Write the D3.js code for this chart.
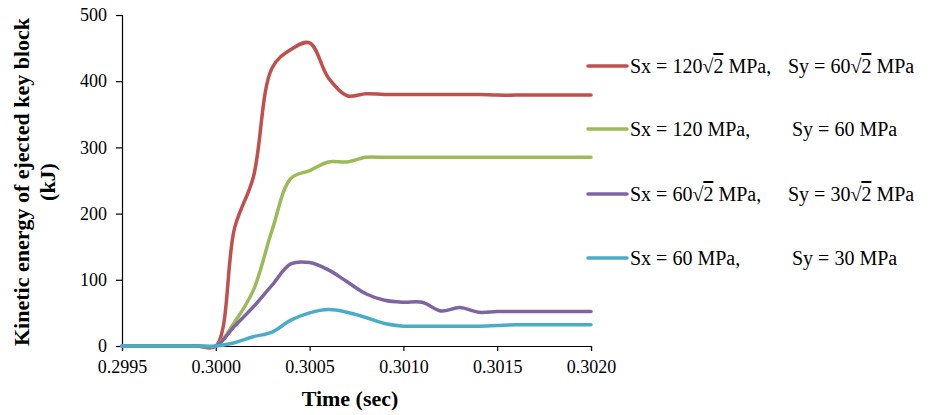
<!DOCTYPE html>
<html>
<head>
<meta charset="utf-8">
<script src="https://cdn.jsdelivr.net/npm/d3@7"></script>
<style>
    body { margin: 0; background: #ffffff; }
    svg text { font-family: "Liberation Serif", "Times New Roman", serif; fill: #000; }
</style>
</head>
<body>
<div id="chart"></div>
<script>
// Time steps (sec)
const timeSteps = [0.2995, 0.2996, 0.2997, 0.2998, 0.2999, 0.3000,
    0.3001, 0.3002, 0.3003, 0.3004, 0.3005, 0.3006, 0.3007, 0.3008, 0.3009, 0.3010,
    0.3011, 0.3012, 0.3013, 0.3014, 0.3015, 0.3016, 0.3017, 0.3018, 0.3019, 0.3020];

// Kinetic energy (kJ) for each stress case
const energyA = [0, 0, 0, 0, 0, 0,
    178, 255, 420, 448, 458, 405, 378, 381, 380, 380,
    380, 380, 380, 380, 379, 379, 379, 379, 379, 379];
const energyB = [0, 0, 0, 0, 0, 0,
    36, 84, 175, 253, 265, 278, 278, 285, 285, 285,
    285, 285, 285, 285, 285, 285, 285, 285, 285, 285];
const energyC = [0, 0, 0, 0, 0, 0,
    30, 59, 92, 124, 126, 115, 97, 79, 69, 66,
    66, 53, 58, 51, 52, 52, 52, 52, 52, 52];
const energyD = [0, 0, 0, 0, 0, 0,
    5, 14, 21, 39, 50, 55, 51, 43, 34, 30,
    30, 30, 30, 30, 31, 32, 32, 32, 32, 32];

// Legend labels: [Sx part, Sy part]
const seriesNames = [
    [["Sx = 120", "2", " MPa,"], ["Sy = 60", "2", " MPa"]],
    [["Sx = 120 MPa,"], ["Sy = 60 MPa"]],
    [["Sx = 60", "2", " MPa,"], ["Sy = 30", "2", " MPa"]],
    [["Sx = 60 MPa,"], ["Sy = 30 MPa"]]
];
const seriesColors = ["#C0504D", "#9BBB59", "#8064A2", "#4BACC6"];

const xTicks = [0.2995, 0.3000, 0.3005, 0.3010, 0.3015, 0.3020];
const yTicks = [0, 100, 200, 300, 400, 500];

// Function to draw the whole chart
function drawChart() {
    const width = 932, height = 415;
    const plot = { left: 122, right: 591, top: 15, bottom: 346 };
    const serif = "Liberation Serif, Times New Roman, serif";

    const svg = d3.select("#chart").append("svg")
        .attr("width", width)
        .attr("height", height);

    svg.append("rect")
        .attr("width", width)
        .attr("height", height)
        .attr("fill", "#ffffff");

    const x = d3.scaleLinear().domain([0.2995, 0.3020]).range([plot.left, plot.right]);
    const y = d3.scaleLinear().domain([0, 500]).range([plot.bottom, plot.top]);

    // Y axis
    const yAxis = svg.append("g")
        .attr("transform", "translate(" + plot.left + ",0)")
        .call(d3.axisLeft(y).tickValues(yTicks).tickSize(6).tickPadding(9).tickFormat(d3.format("d")));

    // X axis
    const xAxis = svg.append("g")
        .attr("transform", "translate(0," + plot.bottom + ")")
        .call(d3.axisBottom(x).tickValues(xTicks).tickSize(5).tickPadding(9).tickFormat(d3.format(".4f")));

    [xAxis, yAxis].forEach(function(axis) {
        axis.attr("font-family", serif).attr("font-size", 18);
        axis.select(".domain").attr("stroke", "#000").attr("stroke-width", 1.2);
        axis.selectAll(".tick line").attr("stroke", "#000").attr("stroke-width", 1.2);
        axis.selectAll(".tick text")
            .attr("font-family", serif)
            .attr("font-size", 18)
            .attr("fill", "#000");
    });

    // Series lines
    const series = [energyA, energyB, energyC, energyD];
    const line = d3.line()
        .x((d, i) => x(timeSteps[i]))
        .y(d => y(d))
        .curve(d3.curveCatmullRom.alpha(0.5));

    series.forEach(function(values, i) {
        svg.append("path")
            .datum(values)
            .attr("d", line)
            .attr("fill", "none")
            .attr("stroke", seriesColors[i])
            .attr("stroke-width", 3.5)
            .attr("stroke-linejoin", "round")
            .attr("stroke-linecap", "round");
    });

    // Axis titles
    const yTitle = svg.append("text")
        .attr("transform", "translate(0,182) rotate(-90)")
        .attr("text-anchor", "middle")
        .attr("font-size", 22)
        .attr("font-weight", "bold");
    yTitle.append("tspan").attr("x", 0).attr("y", 29).text("Kinetic energy of ejected key block");
    yTitle.append("tspan").attr("x", 0).attr("y", 55).text("(kJ)");

    svg.append("text")
        .attr("x", 350)
        .attr("y", 406)
        .attr("text-anchor", "middle")
        .attr("font-size", 22)
        .attr("font-weight", "bold")
        .text("Time (sec)");

    // Legend
    const legendY = [66, 129, 194, 258];
    const syX = [788, 792, 788, 792];
    const legend = svg.append("g");

    seriesNames.forEach(function(name, i) {
        legend.append("line")
            .attr("x1", 588).attr("x2", 627)
            .attr("y1", legendY[i]).attr("y2", legendY[i])
            .attr("stroke", seriesColors[i])
            .attr("stroke-width", 3.5)
            .attr("stroke-linecap", "round");

        const label = legend.append("text")
            .attr("y", legendY[i] + 7)
            .attr("font-size", 20);

        [630, syX[i]].forEach(function(px, j) {
            const parts = name[j];
            label.append("tspan").attr("x", px).text(parts[0]);
            if (parts.length > 1) {
                label.append("tspan").text("√");
                label.append("tspan")
                    .style("text-decoration", "overline")
                    .text(parts[1]);
                label.append("tspan").text(parts[2]);
            }
        });
    });
}

drawChart();
</script>
</body>
</html>
